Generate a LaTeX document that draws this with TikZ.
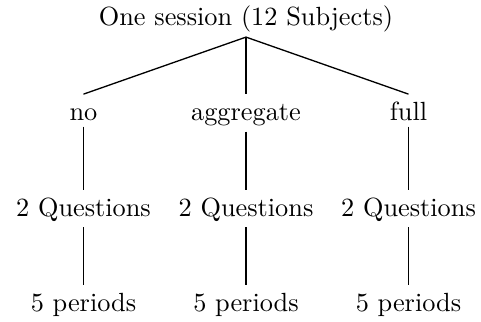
\documentclass[tikz,border=0pt]{standalone}
\begin{document}
\begin{tikzpicture}[x=0.3802pt,y=-0.3802pt,
  lbl/.style={anchor=base,inner xsep=0pt,inner ysep=1.9pt,text height=8pt},
  edge/.style={draw=black,line width=0.5pt}]
\useasboundingbox (0,0) rectangle (481,321);
\node[lbl] (root) at (246,25) {One session (12 Subjects)};
\node[lbl] (no) at (83.5,120.7) {no};
\node[lbl] (agg) at (246,120.7) {aggregate};
\node[lbl] (full) at (408.5,120.7) {full};
\node[lbl] (q1) at (83.5,216.7) {2 Questions};
\node[lbl] (q2) at (246,216.7) {2 Questions};
\node[lbl] (q3) at (408.5,216.7) {2 Questions};
\node[lbl] (p1) at (83.5,311.7) {5 periods};
\node[lbl] (p2) at (246,311.7) {5 periods};
\node[lbl] (p3) at (408.5,311.7) {5 periods};
\draw[edge] (root.south) -- (no.north);
\draw[edge] (root.south) -- (agg.north);
\draw[edge] (root.south) -- (full.north);
\draw[edge] (no.south) -- (q1.north);
\draw[edge] (agg.south) -- (q2.north);
\draw[edge] (full.south) -- (q3.north);
\draw[edge] (q1.south) -- (p1.north);
\draw[edge] (q2.south) -- (p2.north);
\draw[edge] (q3.south) -- (p3.north);
\end{tikzpicture}
\end{document}
